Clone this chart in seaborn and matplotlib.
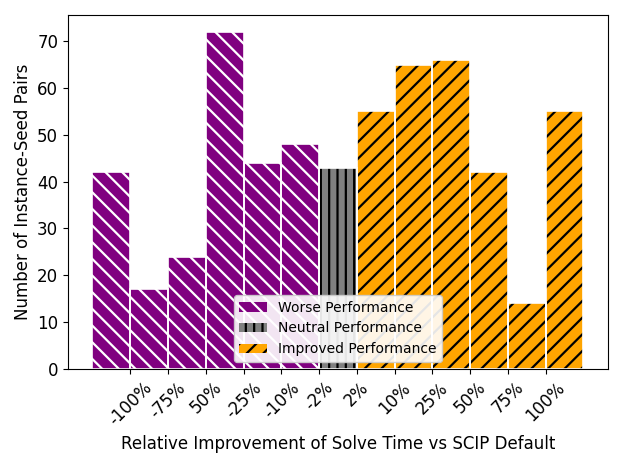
import pandas as pd
import numpy as np
import matplotlib
matplotlib.use("Agg")
import matplotlib.pyplot as plt
import matplotlib.patches as mpatches
import seaborn as sns


# ============================================================
# 数据
# ============================================================

worse_counts = [42, 17, 24, 72, 44, 48]
neutral_counts = [43]
improved_counts = [55, 65, 66, 42, 14, 55]

tick_labels = ["-100%", "-75%", "50%", "-25%", "-10%", "-2%",
               "2%", "10%", "25%", "50%", "75%", "100%"]

group_names = ["Worse Performance", "Neutral Performance", "Improved Performance"]
group_colors = {"Worse Performance": "purple",
                "Neutral Performance": "grey",
                "Improved Performance": "orange"}
group_hatch = {"Worse Performance": "\\\\",
               "Neutral Performance": "||",
               "Improved Performance": "//"}
group_hatch_color = {"Worse Performance": "white",
                     "Neutral Performance": "black",
                     "Improved Performance": "black"}

# ============================================================
# 绘图
# ============================================================

plt.rcParams["hatch.linewidth"] = 1.6

counts = worse_counts + neutral_counts + improved_counts
groups = ([group_names[0]] * len(worse_counts)
          + [group_names[1]] * len(neutral_counts)
          + [group_names[2]] * len(improved_counts))
df = pd.DataFrame({"bin": range(len(counts)), "count": counts, "group": groups})

fig, ax = plt.subplots(figsize=(6.23, 4.67), dpi=100)
fig.subplots_adjust(left=0.109, right=0.976, top=0.968, bottom=0.210)

sns.barplot(data=df, x="bin", y="count", hue="group", hue_order=group_names,
            palette=group_colors, saturation=1, dodge=False, width=1.0,
            linewidth=0, legend=False, ax=ax)

# 给每根柱子加上阴影线，再补一层白色边框
for patch in list(ax.patches):
    i = int(round(patch.get_x() + patch.get_width() / 2))
    g = df.loc[i, "group"]
    patch.set_hatch(group_hatch[g])
    patch.set_edgecolor(group_hatch_color[g])
    patch.set_linewidth(0)
    ax.add_patch(mpatches.Rectangle(patch.get_xy(), patch.get_width(),
                                    patch.get_height(), fill=False,
                                    edgecolor="white", linewidth=1.2))

n = len(counts)
ax.set_xlim(-0.5 - 0.05 * n, n - 0.5 + 0.05 * n)
ax.set_ylim(0, max(counts) * 1.05)
ax.set_xticks(np.arange(len(tick_labels)) + 0.5)
ax.set_xticklabels(tick_labels, rotation=45, fontsize=12)
ax.tick_params(axis="y", labelsize=12)

ax.set_xlabel("Relative Improvement of Solve Time vs SCIP Default", fontsize=12)
ax.set_ylabel("Number of Instance-Seed Pairs", fontsize=12)

handles = [mpatches.Patch(facecolor=group_colors[g], hatch=group_hatch[g],
                          edgecolor=group_hatch_color[g], linewidth=0, label=g)
           for g in group_names]
ax.legend(handles=handles, loc="lower center", fontsize=10, framealpha=0.9)

fig.savefig("out.png", dpi=100)
